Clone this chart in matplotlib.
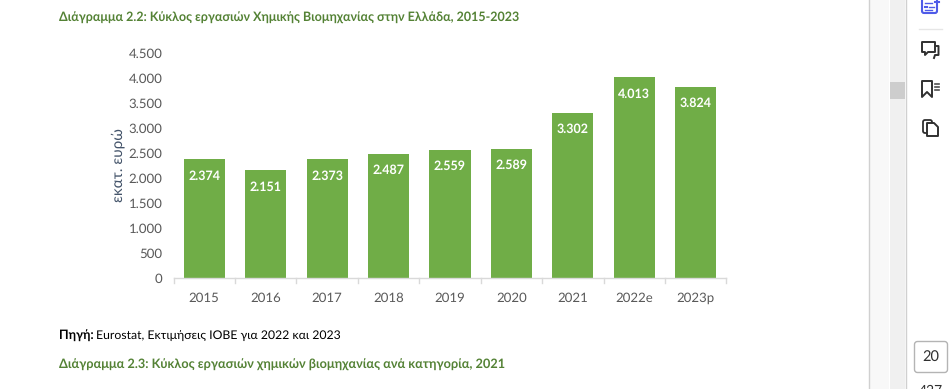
import numpy as np
import matplotlib
matplotlib.use("Agg")
import matplotlib.pyplot as plt
from matplotlib.patches import Rectangle, FancyBboxPatch, Polygon

plt.rcParams['font.family'] = ['Lato', 'Noto Sans', 'DejaVu Sans']
plt.rcParams['text.hinting'] = 'no_hinting'

# data
years = ['2015', '2016', '2017', '2018', '2019', '2020', '2021', '2022e', '2023p']
turnover = [2374, 2151, 2373, 2487, 2559, 2589, 3302, 4013, 3824]
value_labels = ['2.374', '2.151', '2.373', '2.487', '2.559', '2.589', '3.302', '4.013', '3.824']
yticks = [0, 500, 1000, 1500, 2000, 2500, 3000, 3500, 4000, 4500]
ytick_labels = ['0', '500', '1.000', '1.500', '2.000', '2.500', '3.000', '3.500', '4.000', '4.500']

W, H = 953, 389
GREEN = '#70AD47'
TITLE = '#548235'
GREY = '#595959'
ICON = '#303030'
BLUE = '#4F5BE8'

fig = plt.figure(figsize=(W / 100, H / 100), dpi=100)

# page overlay in pixel coords
bg = fig.add_axes([0, 0, 1, 1])
bg.set_xlim(0, W)
bg.set_ylim(H, 0)
bg.axis('off')

# chart
ax = fig.add_axes([173.5 / W, 1 - 278 / H, 553 / W, 225 / H])
x = np.arange(len(years))
ax.bar(x, turnover, width=0.67, color=GREEN, zorder=2)
ax.set_xlim(-0.5, len(years) - 0.5)
ax.set_ylim(0, 4500)
ax.set_xticks(x)
ax.set_xticklabels(years)
ax.set_yticks(yticks)
ax.set_yticklabels(ytick_labels)
ax.tick_params(axis='y', length=0, labelsize=9.5, labelcolor=GREY, pad=8)
ax.tick_params(axis='x', length=0, labelsize=9.5, labelcolor=GREY, pad=10)
for s in ['top', 'right', 'left']:
    ax.spines[s].set_visible(False)
ax.spines['bottom'].set_color('#D9D9D9')
ax.spines['bottom'].set_linewidth(1)
for edge in np.arange(len(years) + 1) - 0.5:
    ax.plot([edge, edge], [0, -100], color='#D9D9D9', lw=1, clip_on=False)
ax.set_ylabel('εκατ. ευρώ', fontsize=11, color='#44546A', labelpad=2.5)
for xi, v, lab in zip(x, turnover, value_labels):
    ax.text(xi, v - 330, lab, ha='center', va='center', color='white',
            fontsize=9, fontweight='bold', zorder=3)

# page text
bg.text(59, 18, 'Διάγραμμα 2.2: Κύκλος εργασιών Χημικής Βιομηχανίας στην Ελλάδα, 2015-2023',
        fontsize=9.04, fontweight='bold', color=TITLE, va='center')
bg.text(59, 336, 'Πηγή:', fontsize=9, fontweight='bold', color='black', va='center')
bg.text(96, 336, 'Eurostat, Εκτιμήσεις ΙΟΒΕ για 2022 και 2023', fontsize=8.83, color='black', va='center')
bg.text(59, 364.5, 'Διάγραμμα 2.3: Κύκλος εργασιών χημικών βιομηχανίας ανά κατηγορία, 2021',
        fontsize=9.15, fontweight='bold', color=TITLE, va='center')

# scrollbar
bg.add_patch(Rectangle((870, 0), 19, H, fc='#F8F8F8', ec='none'))
bg.add_patch(Rectangle((890, 0), 15.5, H, fc='#F0F0F0', ec='none'))
bg.plot([869.5, 869.5], [0, H], color='#D0D0D0', lw=1)
bg.plot([906, 906], [0, H], color='#D0D0D0', lw=1)
bg.add_patch(Rectangle((890, 82), 15, 17, fc='#CDCDCD', ec='none'))

# side icons
bg.add_patch(FancyBboxPatch((922, -3), 15, 16, boxstyle='round,pad=0,rounding_size=2',
                            fc='white', ec=BLUE, lw=1.5))
bg.plot([925, 932], [3, 3], color=BLUE, lw=1)
bg.plot([925, 927], [7, 7], color=BLUE, lw=1.5)
bg.plot([929, 934], [7, 7], color=BLUE, lw=1)
bg.plot([925, 932], [10, 10], color=BLUE, lw=1)
bg.plot([935, 939], [2, 2], color=BLUE, lw=1.5)
bg.plot([919, 942], [28.5, 28.5], color='#E6E6E6', lw=1)
bg.add_patch(Polygon([(922, 42), (935, 42), (935, 52), (928, 52), (925, 55), (925, 52), (922, 52)],
                     fc='white', ec=ICON, lw=1.4, joinstyle='round'))
bg.plot([937, 938.5, 938.5, 935, 934], [46, 46, 55, 55, 58], color=ICON, lw=1.4)
bg.add_patch(Polygon([(922, 81), (932, 81), (932, 97), (927, 92), (922, 97)],
                     fc='white', ec=ICON, lw=1.4, joinstyle='round'))
for yy in (84, 87, 90):
    bg.plot([935, 939], [yy, yy], color='#505050', lw=1.2)
bg.add_patch(FancyBboxPatch((923, 120), 9, 13, boxstyle='round,pad=0,rounding_size=2',
                            fc='white', ec=ICON, lw=1.3))
bg.add_patch(Polygon([(927, 123), (934, 123), (938, 127), (938, 136), (927, 136)],
                     fc='white', ec=ICON, lw=1.4, joinstyle='round'))

# page number box
bg.add_patch(FancyBboxPatch((914.5, 341.5), 33, 31, boxstyle='round,pad=0,rounding_size=3',
                            fc='white', ec='#B4B4B4', lw=1))
bg.text(931, 357, '20', fontsize=10.5, color=ICON, ha='center', va='center')
bg.text(931, 391, '427', fontsize=10, color=ICON, ha='center', va='center')

fig.savefig('out.png', dpi=100)
